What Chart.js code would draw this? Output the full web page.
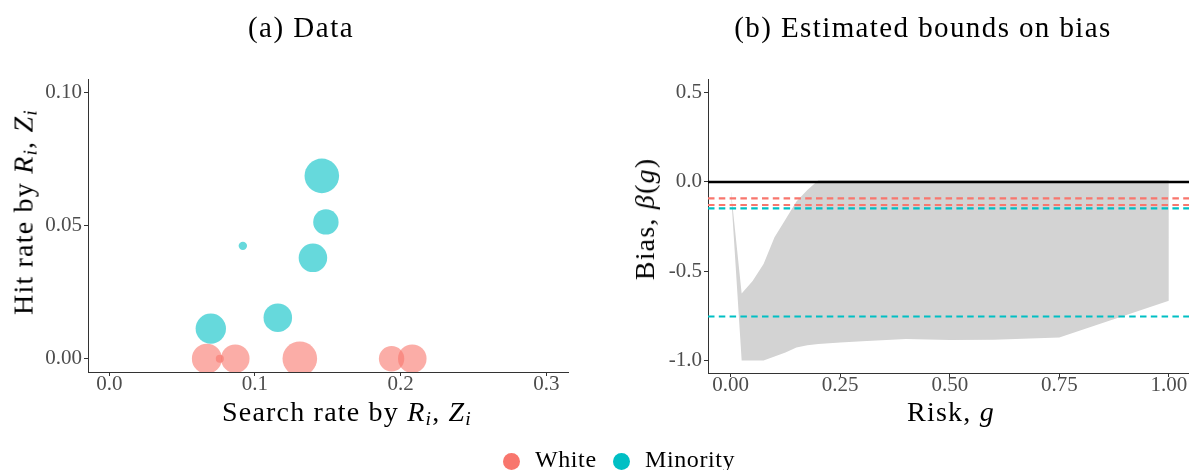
<!DOCTYPE html>
<html>
<head>
<meta charset="utf-8">
<script src="https://cdn.jsdelivr.net/npm/chart.js@4.4.1/dist/chart.umd.min.js"></script>
<style>
  body { margin:0; width:1189px; height:470px; position:relative; overflow:hidden; background:#fff; font-family:"Liberation Serif", serif; }
  .box { position:absolute; top:0; height:470px; }
  .txt { position:absolute; white-space:nowrap; line-height:1; color:#000; }
  .hc { transform:translateX(-50%); }
  .vc { transform:translate(-50%,-50%) rotate(-90deg); }
  .s { font-size:0.7em; vertical-align:-0.22em; font-style:italic; }
  .key { position:absolute; width:17px; height:17px; border-radius:50%; }
</style>
</head>
<body>
<div class="box" style="left:0;width:600px"><canvas id="chartA"></canvas></div>
<div class="box" style="left:600px;width:589px"><canvas id="chartB"></canvas></div>

<div class="txt hc" style="left:301px;top:13px;font-size:29px;letter-spacing:1.5px">(a) Data</div>
<div class="txt hc" style="left:923px;top:13px;font-size:29px;letter-spacing:1.4px">(b) Estimated bounds on bias</div>

<div class="txt hc" style="left:347px;top:398px;font-size:28px;letter-spacing:1.2px">Search rate by <i>R</i><span class="s">i</span>, <i>Z</i><span class="s">i</span></div>
<div class="txt vc" style="left:25px;top:212px;font-size:28px;letter-spacing:1.2px">Hit rate by <i>R</i><span class="s">i</span>, <i>Z</i><span class="s">i</span></div>
<div class="txt hc" style="left:951px;top:398px;font-size:28px;letter-spacing:1.2px">Risk, <i>g</i></div>
<div class="txt vc" style="left:645px;top:219px;font-size:28px;letter-spacing:1.2px">Bias, <i>β</i>(<i>g</i>)</div>

<div class="key" style="left:503px;top:453px;background:#F8766D"></div>
<div class="txt" style="left:535px;top:447px;font-size:24px;letter-spacing:0.6px">White</div>
<div class="key" style="left:613px;top:453px;background:#00BFC4"></div>
<div class="txt" style="left:645px;top:447px;font-size:24px;letter-spacing:0.6px">Minority</div>

<script>
// panel (a): search rate vs hit rate, bubble size = relative number of searches
const searchWhite = [0.067, 0.0759, 0.0865, 0.1308, 0.1938, 0.208];
const hitWhite = [0, 0, 0, 0, 0, 0];
const sizeWhite = [0.75, 0.055, 0.68, 1.0, 0.54, 0.68];

const searchMinority = [0.0697, 0.0917, 0.1157, 0.1398, 0.1487, 0.1459];
const hitMinority = [0.0113, 0.0424, 0.0154, 0.0379, 0.0514, 0.0687];
const sizeMinority = [0.77, 0.059, 0.68, 0.68, 0.54, 1.0];

// panel (b): bounds on bias over risk g
const risk = [0, 0.025, 0.05, 0.075, 0.1, 0.125, 0.15, 0.175, 0.2, 0.25, 0.3, 0.4, 0.5, 0.6, 0.75, 1.0];
const boundUpper = [-0.035, -0.625, -0.555, -0.46, -0.31, -0.21, -0.11, -0.045, 0.01, 0.01, 0.01, 0.01, 0.01, 0.01, 0.01, 0.01];
const boundLower = [-0.035, -1.0, -1.0, -1.0, -0.978, -0.955, -0.928, -0.915, -0.908, -0.9, -0.893, -0.88, -0.886, -0.884, -0.872, -0.665];
const whiteBias = [-0.092, -0.129];
const minorityBias = [-0.148, -0.754];

// tick labels
const xTicksA = ['0.0', '0.1', '0.2', '0.3'];
const yTicksA = ['0.00', '0.05', '0.10'];
const xTicksB = ['0.00', '0.25', '0.50', '0.75', '1.00'];
const yTicksB = ['-1.0', '-0.5', '0.0', '0.5'];

const RED = '#F8766D', TEAL = '#00BFC4';
const MAX_R = 17.3;
const xMinB = -0.0518, xMaxB = 1.046;

function axis(min, max, labels, isX, fixed) {
  const vals = labels.map(parseFloat);
  return {
    type: 'linear', min: min, max: max, z: 1,
    afterBuildTicks: s => { s.ticks = vals.map(v => ({ value: v })); },
    afterFit: s => { if (isX) s.height = fixed; else s.width = fixed; },
    ticks: {
      callback: (v, i) => labels[i],
      color: '#4d4d4d',
      font: { family: 'Liberation Serif', size: 21, lineHeight: 1 },
      padding: isX ? -2 : 2,
      autoSkip: false, maxRotation: 0
    },
    grid: { drawOnChartArea: false, drawTicks: true, tickLength: 4, color: '#333', lineWidth: 1 },
    border: { display: true, color: '#333', width: 1 }
  };
}

const bubbles = (xs, ys, ws) => xs.map((x, i) => ({ x: x, y: ys[i], r: MAX_R * Math.sqrt(ws[i]) }));

new Chart(document.getElementById('chartA'), {
  type: 'bubble',
  data: {
    datasets: [
      { label: 'White', data: bubbles(searchWhite, hitWhite, sizeWhite), backgroundColor: 'rgba(248,118,109,0.6)', borderWidth: 0, clip: 0 },
      { label: 'Minority', data: bubbles(searchMinority, hitMinority, sizeMinority), backgroundColor: 'rgba(0,191,196,0.6)', borderWidth: 0, clip: 0 }
    ]
  },
  options: {
    responsive: true, maintainAspectRatio: false, animation: false, events: [],
    layout: { padding: { left: 0, right: 32, top: 79, bottom: 0 } },
    plugins: { legend: { display: false }, tooltip: { enabled: false } },
    scales: {
      x: axis(-0.0146, 0.3149, xTicksA, true, 98),
      y: axis(-0.005, 0.1051, yTicksA, false, 88)
    }
  }
});

const hline = (y, color, dash, width, order) => ({
  data: [{ x: xMinB, y: y }, { x: xMaxB, y: y }],
  borderColor: color, borderWidth: width, borderDash: dash,
  pointRadius: 0, fill: false, order: order
});

new Chart(document.getElementById('chartB'), {
  type: 'line',
  data: {
    datasets: [
      { data: risk.map((g, i) => ({ x: g, y: boundLower[i] })), borderWidth: 0, borderColor: 'rgba(0,0,0,0)', pointRadius: 0, fill: false, order: 3 },
      { data: risk.map((g, i) => ({ x: g, y: boundUpper[i] })), borderWidth: 0, borderColor: 'rgba(0,0,0,0)', backgroundColor: '#D3D3D3', pointRadius: 0, fill: '-1', order: 2 },
      ...whiteBias.map(v => hline(v, RED, [6.5, 4.3], 2.2, 1)),
      ...minorityBias.map(v => hline(v, TEAL, [6.5, 4.3], 2.2, 1)),
      hline(0, '#000', [], 2.5, 0)
    ]
  },
  options: {
    responsive: true, maintainAspectRatio: false, animation: false, events: [],
    layout: { padding: { left: 0, right: 0, top: 79, bottom: 0 } },
    elements: { line: { tension: 0 } },
    plugins: { legend: { display: false }, tooltip: { enabled: false } },
    scales: {
      x: axis(xMinB, xMaxB, xTicksB, true, 97),
      y: axis(-1.0705, 0.577, yTicksB, false, 108)
    }
  }
});
</script>
</body>
</html>
